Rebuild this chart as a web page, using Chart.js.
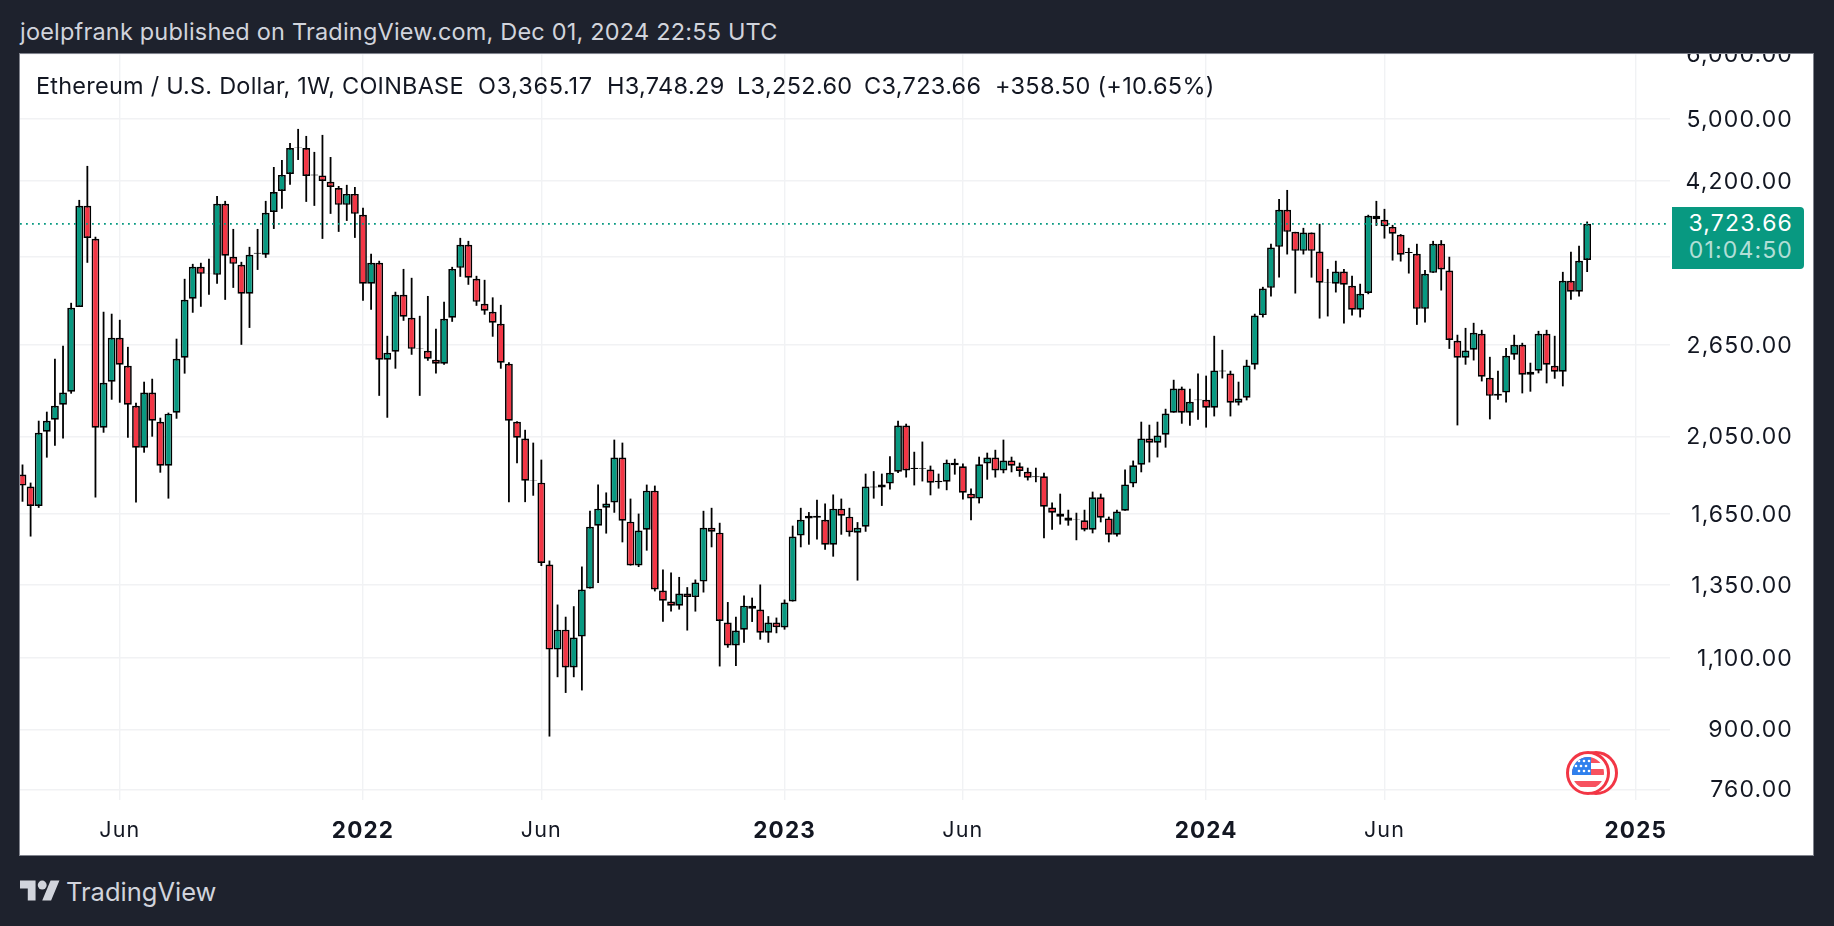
<!DOCTYPE html>
<html><head><meta charset="utf-8"><title>ETHUSD</title>
<script src="https://cdn.jsdelivr.net/npm/chart.js@4"></script>
<style>
html,body{margin:0;padding:0;background:#1e222d;width:1834px;height:926px;overflow:hidden;font-family:Inter,sans-serif}
#panel{position:absolute;left:19px;top:53px;width:1795px;height:803px;background:#fff;z-index:0}
#frame{position:absolute;left:19px;top:53px;width:1793px;height:801px;border:1px solid #80838d;z-index:3;pointer-events:none}
canvas{position:absolute;left:0;top:0;z-index:1}
#top{position:absolute;left:0;top:0;width:1834px;height:53px;background:#1e222d;z-index:2}
#pub{position:absolute;left:20px;top:17px;font-size:23.5px;line-height:30px;letter-spacing:.19px;color:#d1d4dc;white-space:nowrap;z-index:4}
.lg{position:absolute;top:71px;font-size:23.5px;line-height:30px;color:#131722;white-space:nowrap;z-index:4}
#tag{position:absolute;left:1672px;top:207px;width:132px;height:62px;background:#089981;border-radius:0 4px 4px 0;z-index:4}
#tag div{position:absolute;right:11px;font-size:23px;line-height:28px;letter-spacing:1.15px;white-space:nowrap}
#foot{position:absolute;left:66px;top:875px;font-size:25.5px;line-height:34px;color:#d1d4dc;white-space:nowrap}
#logo{position:absolute;left:20px;top:876px}
#flag{position:absolute;left:1564px;top:749px;z-index:4}
</style></head><body>
<div id="panel"></div>
<canvas id="c" width="1834" height="926"></canvas>
<div id="top"></div>
<div id="frame"></div>
<div id="pub">joelpfrank published on TradingView.com, Dec 01, 2024 22:55 UTC</div>
<div class="lg" style="left:36px;letter-spacing:.22px">Ethereum / U.S. Dollar, 1W, COINBASE</div>
<div class="lg" style="left:478px;letter-spacing:.7px">O3,365.17</div>
<div class="lg" style="left:607px;letter-spacing:.32px">H3,748.29</div>
<div class="lg" style="left:737px;letter-spacing:.32px">L3,252.60</div>
<div class="lg" style="left:864px;letter-spacing:.32px">C3,723.66</div>
<div class="lg" style="left:995px;letter-spacing:.28px">+358.50 (+10.65%)</div>
<div id="tag"><div style="top:2px;color:#fff">3,723.66</div><div style="top:29px;color:rgba(255,255,255,.7)">01:04:50</div></div>
<svg id="flag" width="56" height="48" viewBox="0 0 56 48">
<circle cx="32" cy="24" r="20.5" fill="#fff" stroke="#f23645" stroke-width="3"/>
<circle cx="24" cy="24" r="20.5" fill="#fff" stroke="#f23645" stroke-width="3"/>
<clipPath id="cp"><circle cx="24" cy="24" r="16"/></clipPath>
<g clip-path="url(#cp)"><rect x="8" y="8" width="32" height="32" fill="#fff"/>
<rect x="8" y="8" width="32" height="6" fill="#f7525f"/><rect x="8" y="20" width="32" height="6" fill="#f7525f"/><rect x="8" y="32" width="32" height="6" fill="#f7525f"/>
<rect x="8" y="8" width="19" height="18" fill="#2f80ed"/>
<g fill="#fff"><circle cx="15" cy="12" r="1.3"/><circle cx="20" cy="12" r="1.3"/><circle cx="25" cy="12" r="1.3"/><circle cx="12" cy="17" r="1.3"/><circle cx="17" cy="17" r="1.3"/><circle cx="22" cy="17" r="1.3"/><circle cx="15" cy="22" r="1.3"/><circle cx="20" cy="22" r="1.3"/><circle cx="25" cy="22" r="1.3"/></g></g>
</svg>
<svg id="logo" width="40" height="27" viewBox="0 0 36 24"><path fill="#d1d4dc" d="M14 22H7V11H0V4h14v18zM28 22h-8l7.5-18h8L28 22z"/><circle fill="#d1d4dc" cx="20" cy="8" r="4"/></svg>
<div id="foot">TradingView</div>
<script>
const opens=[1841,1780,1686,2077,2148,2240,2324,2949,3917,3570,
2100,2390,2704,2500,2234,1985,2318,2136,1888,2191,
2556,3017,3300,3236,3227,3939,3394,3319,3060,3424,
3414,3851,4085,4285,4615,4609,4279,4267,4190,4119,
3928,4051,3820,3147,3338,2542,2600,3052,2860,2621,
2607,2542,2514,2860,3291,3511,3191,2975,2909,2812,
2514,2136,2037,1810,1800,1430,1126,1191,1071,1168,
1337,1595,1677,1702,1931,1613,1426,1577,1760,1329,
1289,1274,1318,1305,1363,1586,1564,1215,1139,1191,
1274,1260,1181,1215,1198,1289,1551,1627,1640,1622,
1512,1673,1636,1564,1590,1775,1775,1795,1856,2113,
1870,1875,1867,1802,1805,1904,1885,1745,1721,1899,
1932,1862,1916,1885,1856,1832,1832,1679,1651,1632,
1623,1619,1577,1727,1628,1555,1663,1795,1893,2037,
2014,2059,2191,2345,2191,2268,2272,2221,2467,2446,
2253,2285,2507,2882,3111,3491,3873,3641,3452,3634,
3446,3156,3147,3257,3129,2925,3067,3809,3766,3692,
3611,3440,3424,2933,3245,3521,3266,2682,2556,2614,
2735,2417,2311,2318,2578,2651,2437,2465,2735,2500,
2458,3173,3077,3365.17];
const highs=[1894,1800,2142,2197,2549,2644,2983,3983,4382,3591,
2909,2893,2844,2636,2253,2390,2410,2160,2191,2697,
3191,3328,3338,3375,4028,3972,3671,3347,3491,3671,
3972,4369,4456,4675,4862,4767,4558,4781,4493,4142,
4155,4130,3895,3424,3357,2719,3077,3281,3200,2876,
3041,2773,2991,3300,3580,3550,3218,3182,3029,2966,
2524,2139,2088,2014,1920,1446,1278,1235,1272,1422,
1663,1790,1751,2031,2014,1721,1650,1790,1785,1410,
1398,1381,1342,1371,1663,1677,1608,1287,1235,1311,
1303,1352,1237,1232,1296,1595,1677,1657,1716,1697,
1741,1721,1677,1611,1846,1859,1846,1939,2142,2124,
1963,2020,1888,1846,1920,1925,1899,1770,1936,1958,
1974,2031,1936,1904,1877,1877,1851,1702,1745,1668,
1654,1668,1755,1745,1636,1668,1867,1915,2136,2118,
2136,2215,2403,2357,2344,2445,2431,2719,2614,2465,
2390,2542,2893,3120,3521,3994,4096,3641,3682,3634,
3724,3281,3357,3281,3218,3147,3820,3972,3884,3713,
3618,3481,3521,3272,3550,3557,3395,2727,2780,2820,
2765,2563,2465,2628,2727,2666,2521,2757,2765,2719,
3254,3443,3501,3748.29];
const lows=[1706,1547,1677,1931,1997,2037,2311,2949,3338,1726,
2071,2272,2253,2042,1702,1958,2048,1851,1721,2154,
2445,2901,2950,3052,3147,3008,3111,2651,2780,3272,
3385,3671,3884,4155,4456,3961,3917,3570,3830,3641,
3755,3580,3000,2925,2297,2160,2479,2836,2578,2297,
2535,2445,2507,2828,3209,3138,2958,2885,2712,2479,
1704,1901,1704,1735,1424,882,1042,997,1042,1004,
1337,1358,1560,1654,1522,1426,1420,1487,1326,1218,
1253,1260,1188,1253,1322,1501,1074,1132,1075,1148,
1217,1158,1148,1179,1191,1289,1501,1512,1534,1491,
1462,1555,1547,1367,1568,1721,1686,1765,1849,1826,
1786,1806,1737,1770,1762,1841,1717,1619,1698,1815,
1826,1848,1853,1830,1811,1802,1540,1577,1600,1595,
1531,1570,1561,1610,1522,1547,1663,1777,1853,1905,
1932,1986,2191,2124,2112,2148,2101,2168,2412,2168,
2236,2268,2474,2863,3036,3202,3417,3062,3417,3202,
2854,2871,3071,2815,2879,2863,3056,3703,3573,3359,
3350,3239,2804,2823,3245,3088,2621,2114,2507,2537,
2392,2150,2272,2255,2542,2313,2324,2447,2379,2410,
2359,3008,3036,3252.60];
const closes=[1785,1686,2071,2142,2234,2318,2941,3917,3580,2100,
2383,2704,2507,2240,1985,2318,2142,1888,2185,2549,
3008,3300,3236,3240,3939,3404,3328,3060,3414,3433,
3841,4073,4273,4609,4622,4261,4267,4201,4130,3928,
4051,3830,3147,3338,2542,2592,3052,2868,2621,2625,
2549,2514,2852,3281,3511,3200,2991,2917,2820,2521,
2142,2042,1810,1812,1436,1126,1191,1071,1165,1333,
1590,1673,1697,1931,1617,1426,1573,1760,1333,1292,
1274,1318,1305,1360,1586,1568,1220,1139,1188,1274,
1263,1181,1215,1199,1285,1547,1622,1640,1631,1512,
1673,1640,1566,1586,1780,1780,1790,1851,2113,1863,
1877,1872,1800,1810,1904,1890,1750,1721,1895,1932,
1862,1915,1888,1860,1825,1827,1682,1654,1636,1617,
1621,1577,1727,1631,1555,1660,1791,1890,2038,2014,
2055,2186,2345,2191,2259,2274,2221,2467,2460,2253,
2280,2502,2879,3105,3484,3873,3641,3452,3634,3452,
3156,3160,3257,3138,2925,3060,3809,3773,3700,3621,
3414,3430,2933,3236,3521,3275,2687,2556,2609,2742,
2424,2297,2297,2570,2651,2437,2458,2735,2507,2458,
3173,3077,3357,3723.66];
const lastPrice=3723.66;
const weekTicks=[12,42,64,94,116,146,168,199];
const weekLabels=['Jun','2022','Jun','2023','Jun','2024','Jun','2025'];
const priceTicks=[6000,5000,4200,3400,2650,2050,1650,1350,1100,900,760];
const coveredPrice=3400;

const UP='#089981',DOWN='#f23645',INK='#131722',GRID='#f1f2f4';
const xMin=-0.308,xMax=203.22;
const idx=opens.map((_,i)=>i);
const fmt=v=>v.toLocaleString('en-US',{minimumFractionDigits:2,maximumFractionDigits:2});
const tracking={id:'tracking',beforeDraw(ch){ch.ctx.letterSpacing='1.15px';}};

new Chart(document.getElementById('c'),{
 type:'bar',
 plugins:[tracking],
 data:{datasets:[
  {type:'line',order:0,data:[{x:xMin,y:lastPrice},{x:xMax,y:lastPrice}],borderColor:UP,borderWidth:1.8,borderDash:[1.8,4.2],pointRadius:0,tension:0},
  {order:1,data:idx.map(i=>({x:i,y:[opens[i],closes[i]]})),barThickness:7.8,borderWidth:1.7,borderColor:'#000',borderSkipped:false,inflateAmount:0,grouped:false,
   backgroundColor:idx.map(i=>closes[i]>=opens[i]?UP:DOWN)},
  {order:2,data:idx.map(i=>({x:i,y:[lows[i],highs[i]]})),barThickness:1.8,borderWidth:0,borderSkipped:false,inflateAmount:0,grouped:false,backgroundColor:'#000'}
 ]},
 options:{
  responsive:false,animation:false,devicePixelRatio:1,
  layout:{padding:{left:20,top:54,right:41,bottom:71}},
  plugins:{legend:{display:false},tooltip:{enabled:false},title:{display:false}},
  scales:{
   x:{type:'linear',min:xMin,max:xMax,offset:false,
    border:{display:false},
    grid:{color:GRID,lineWidth:1.4,drawTicks:false,offset:false},
    afterBuildTicks:s=>{s.ticks=weekTicks.map(v=>({value:v}));},
    afterFit:s=>{s.height=55;},
    ticks:{autoSkip:false,maxRotation:0,padding:18,color:INK,
     font:c=>{const year=c.tick&&weekLabels[weekTicks.indexOf(c.tick.value)]!=='Jun';return {family:'Inter',size:year?22.5:21.5,weight:year?'700':'400'};},
     callback:v=>weekLabels[weekTicks.indexOf(v)]}
   },
   y:{type:'logarithmic',position:'right',min:738,max:6001,
    border:{display:false},
    grid:{color:GRID,lineWidth:1.4,drawTicks:false},
    afterBuildTicks:s=>{s.ticks=priceTicks.map(v=>({value:v}));},
    afterFit:s=>{s.width=123;},
    ticks:{autoSkip:false,padding:0,crossAlign:'far',labelOffset:1,color:INK,font:{family:'Inter',size:23},
     callback:v=>v===coveredPrice?'':fmt(v)}
   }
  }
 }
});
</script>
</body></html>
